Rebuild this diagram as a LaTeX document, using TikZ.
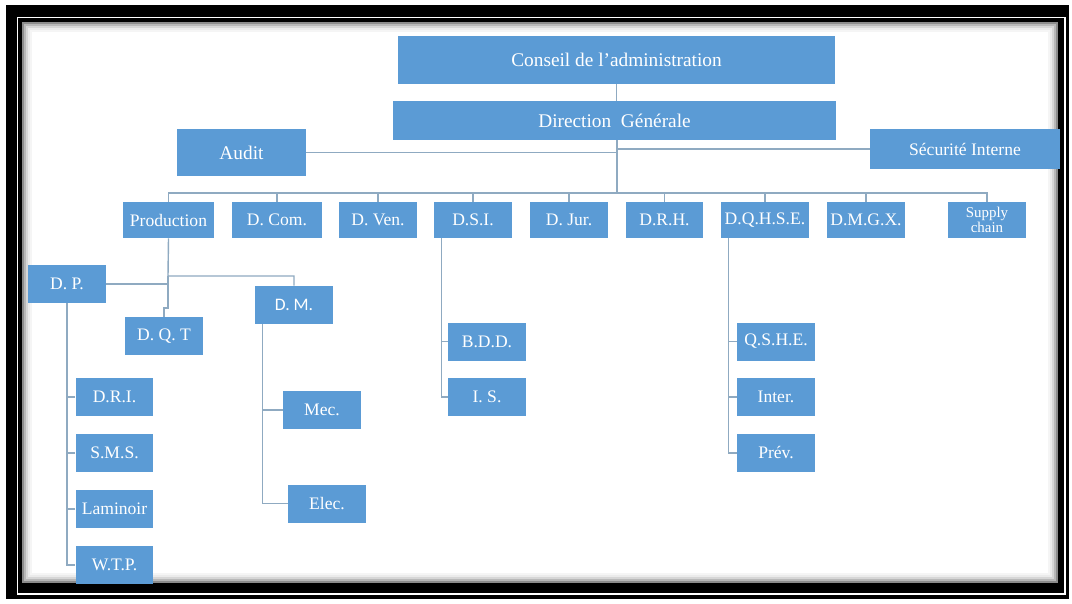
\documentclass[tikz,border=0pt]{standalone}
\usepackage{fontspec}
\setmainfont{Liberation Serif}
\newfontfamily\dmfont{Carlito}
\definecolor{boxblue}{RGB}{91,155,213}
\definecolor{linkgray}{RGB}{143,170,193}
\begin{document}
\begin{tikzpicture}[y=-0.02cm, x=0.02cm,
    box/.style={fill=boxblue, text=white, inner sep=0pt, minimum width=1.56cm,
      minimum height=0.76cm, font=\fontsize{10}{12}\selectfont, align=center},
    bigbox/.style={box, font=\fontsize{11}{13}\selectfont},
    link/.style={draw=linkgray, line width=0.8pt}]
    \useasboundingbox (0,0) rectangle (1072,603);

    % frame
    \fill[black] (6,5) rectangle (1069,599);
    \draw[white, line width=0.03cm] (17.5,17.5) rectangle (1065,594);
    \fill[white] (22,22) rectangle (1058,583);
    \foreach \d/\o in {1/0.45,3/0.28,5/0.16,7/0.08,9/0.04}
      \draw[black, opacity=\o, line width=0.04cm] (22+\d,22+\d) rectangle (1058-\d,583-\d);

    % top
    \node[bigbox, minimum width=8.74cm, minimum height=0.96cm] (cons) at (616.5,60) {Conseil de l'administration};
    \node[bigbox, minimum width=8.86cm, minimum height=0.78cm] (dg) at (614.5,120.5) {Direction\ \ Générale};
    \node[bigbox, minimum width=2.58cm, minimum height=0.94cm] (audit) at (241.5,152.5) {Audit};
    \node[box, minimum width=3.8cm, minimum height=0.8cm] (secu) at (965,149) {Sécurité Interne};

    % directions
    \node[box, minimum width=1.82cm, minimum height=0.72cm] (prod) at (168.5,220) {Production};
    \node[box, minimum width=1.8cm, minimum height=0.72cm] (dcom) at (277,220) {D. Com.};
    \node[box, minimum height=0.72cm] (dven) at (378,220) {D. Ven.};
    \node[box, minimum height=0.72cm] (dsi) at (473,220) {D.S.I.};
    \node[box, minimum height=0.72cm] (djur) at (569,220) {D. Jur.};
    \node[box, minimum height=0.72cm] (drh) at (664.5,220) {D.R.H.};
    \node[box, minimum width=1.76cm, minimum height=0.72cm] (dqhse) at (765,220) {D.Q.H.S.E.};
    \node[box, minimum height=0.72cm] (dmgx) at (866,220) {D.M.G.X.};
    \node[box, minimum height=0.72cm, font=\fontsize{8.5}{8.5}\selectfont] (supply) at (987,220) {Supply\\chain};

    % production
    \node[box] (dp) at (67,284) {D. P.};
    \node[box] (dqt) at (164,336) {D. Q. T};
    \node[box, font=\dmfont\fontsize{10}{12}\selectfont] (dm) at (294,305) {D. M.};
    \node[box] (dri) at (114.5,397) {D.R.I.};
    \node[box] (sms) at (114.5,453) {S.M.S.};
    \node[box] (lam) at (114.5,509) {Laminoir};
    \node[box] (wtp) at (114.5,565) {W.T.P.};
    \node[box] (mec) at (322,410) {Mec.};
    \node[box] (elec) at (327,503.5) {Elec.};

    % D.S.I. and D.Q.H.S.E.
    \node[box] (bdd) at (487,341.5) {B.D.D.};
    \node[box] (is) at (487,397) {I. S.};
    \node[box] (qshe) at (776,341.5) {Q.S.H.E.};
    \node[box] (inter) at (776,397) {Inter.};
    \node[box] (prev) at (776,453) {Prév.};

    % links
    \coordinate (dgb) at (617,193);
    \draw[link] (cons.south) -- (cons.south |- dg.north);
    \draw[link] (dgb |- dg.south) -- (dgb);
    \draw[link] (audit.east) -- (audit.east -| dgb);
    \draw[link] (secu.west) -- (secu.west -| dgb);
    \draw[link] (prod.north) -- (prod.north |- dgb) -- (supply.north |- dgb) -- (supply.north);
    \foreach \n in {dcom,dven,dsi,djur,drh,dqhse,dmgx}
      \draw[link] (\n.north) -- (\n.north |- dgb);

    \coordinate (pbus) at (168,276);
    \draw[link] (prod.south) -- (pbus) -| (dm.north);
    \draw[link] (dp.east) -- (dp.east -| pbus);
    \draw[link] (pbus) -- ++(0,32) -| (dqt.north);

    \draw[link] (dp.south) |- (wtp.west);
    \foreach \n in {dri,sms,lam}
      \draw[link] (\n.west) -- (\n.west -| dp.south);

    \coordinate (dmv) at ([xshift=0.16cm]dm.south west);
    \draw[link] (dmv) |- (elec.west);
    \draw[link] (mec.west) -- (mec.west -| dmv);

    \coordinate (dsiv) at ([xshift=0.16cm]dsi.south west);
    \draw[link] (dsiv) |- (is.west);
    \draw[link] (bdd.west) -- (bdd.west -| dsiv);

    \coordinate (dqv) at ([xshift=0.16cm]dqhse.south west);
    \draw[link] (dqv) |- (prev.west);
    \foreach \n in {qshe,inter}
      \draw[link] (\n.west) -- (\n.west -| dqv);

  \end{tikzpicture}
\end{document}
